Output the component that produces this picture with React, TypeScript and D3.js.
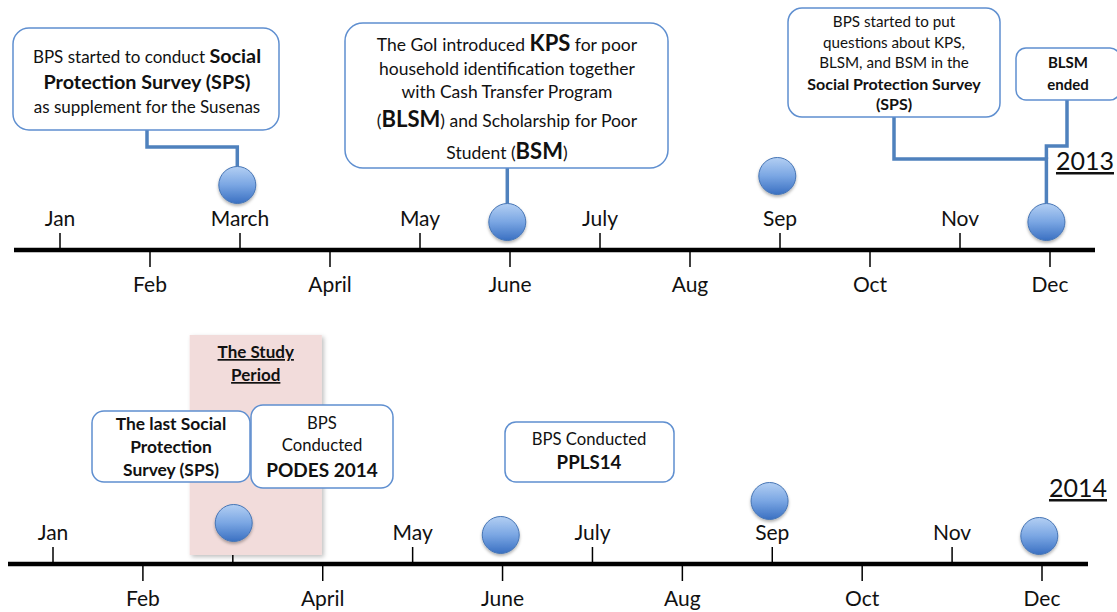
import React, { useEffect } from "react";
import { scaleLinear } from "d3";

const W = 1117;
const H = 612;
const FONT = "Lato, 'Open Sans', sans-serif";

const months = ["Jan", "Feb", "March", "April", "May", "June", "July", "Aug", "Sep", "Oct", "Nov", "Dec"];

// event markers: month index and how high above the axis line the dot sits
const events2013 = [
  { month: 1.97, lift: 65 },
  { month: 4.97, lift: 28 },
  { month: 7.97, lift: 74 },
  { month: 10.96, lift: 28 },
];
const events2014 = [
  { month: 2.01, lift: 41 },
  { month: 4.98, lift: 29 },
  { month: 7.97, lift: 63 },
  { month: 10.97, lift: 28 },
];
const studyPeriod = [1.52, 2.99];

type Seg = [string, "r" | "b" | "B"];

const callouts2013: { x: number; y: number; w: number; h: number; r: number; size: number; bold: number; big: number; cx: number; ys: number[]; lines: Seg[][] }[] = [
  {
    x: 13, y: 28, w: 266, h: 102, r: 16, size: 17, bold: 19.8, big: 19.8, cx: 147,
    ys: [63, 89, 113],
    lines: [
      [["BPS started to conduct ", "r"], ["Social", "b"]],
      [["Protection Survey (SPS)", "b"]],
      [["as supplement for the Susenas", "r"]],
    ],
  },
  {
    x: 345, y: 23, w: 323, h: 145, r: 18, size: 17.5, bold: 17.5, big: 22, cx: 507,
    ys: [51, 75, 98, 127, 159],
    lines: [
      [["The GoI introduced ", "r"], ["KPS", "B"], [" for poor", "r"]],
      [["household identification together", "r"]],
      [["with Cash Transfer Program", "r"]],
      [["(", "r"], ["BLSM", "B"], [") and Scholarship for Poor", "r"]],
      [["Student (", "r"], ["BSM", "B"], [")", "r"]],
    ],
  },
  {
    x: 788, y: 8, w: 212, h: 109, r: 14, size: 15.2, bold: 16, big: 16, cx: 894,
    ys: [27, 48, 68, 90, 110],
    lines: [
      [["BPS started to put", "r"]],
      [["questions about KPS,", "r"]],
      [["BLSM, and BSM in the", "r"]],
      [["Social Protection Survey", "b"]],
      [["(SPS)", "b"]],
    ],
  },
  {
    x: 1016, y: 48, w: 104, h: 52, r: 10, size: 15, bold: 15, big: 15, cx: 1068,
    ys: [68, 90],
    lines: [[["BLSM", "b"]], [["ended", "b"]]],
  },
];

const callouts2014: typeof callouts2013 = [
  {
    x: 92, y: 411, w: 158, h: 71, r: 12, size: 17.4, bold: 17.4, big: 17.4, cx: 171,
    ys: [430, 453, 476],
    lines: [[["The last Social", "b"]], [["Protection", "b"]], [["Survey (SPS)", "b"]]],
  },
  {
    x: 251, y: 405, w: 142, h: 83, r: 12, size: 16.7, bold: 19, big: 19, cx: 322,
    ys: [429, 451, 477],
    lines: [[["BPS", "r"]], [["Conducted", "r"]], [["PODES 2014", "b"]]],
  },
  {
    x: 505, y: 422, w: 169, h: 60, r: 11, size: 16.7, bold: 18.7, big: 18.7, cx: 589,
    ys: [445, 469],
    lines: [[["BPS Conducted", "r"]], [["PPLS14", "b"]]],
  },
];

const BLUE = "#4f81bd";
const BOX = "#5f8fd0";

function Callout({ c }: { c: (typeof callouts2013)[number] }) {
  return (
    <g>
      <rect x={c.x} y={c.y} width={c.w} height={c.h} rx={c.r} fill="#fff" stroke={BOX} strokeWidth={1.5} />
      {c.lines.map((line, i) => (
        <text key={i} x={c.cx} y={c.ys[i]} textAnchor="middle" fontFamily={FONT} fontSize={c.size} fill="#111">
          {line.map(([t, s], j) => (
            <tspan key={j} fontWeight={s === "r" ? 400 : 700} fontSize={s === "r" ? c.size : s === "b" ? c.bold : c.big}>
              {t}
            </tspan>
          ))}
        </text>
      ))}
    </g>
  );
}

function Axis({ axisY, x0, x1, scale, year, yearY }: any) {
  return (
    <g>
      <line x1={x0} x2={x1} y1={axisY} y2={axisY} stroke="#000" strokeWidth={4.5} />
      {months.map((m, i) => {
        const up = i % 2 === 0;
        const x = scale(i);
        return (
          <g key={m}>
            <line x1={x} x2={x} y1={axisY} y2={up ? axisY - 17 : axisY + 17} stroke="#000" strokeWidth={1.5} />
            <text x={x} y={up ? axisY - 24 : axisY + 42} textAnchor="middle" fontFamily={FONT} fontSize={21} fill="#111">
              {m}
            </text>
          </g>
        );
      })}
      <text x={x1 + 19} y={yearY} textAnchor="end" fontFamily={FONT} fontSize={25} fill="#111" textDecoration="underline">
        {year}
      </text>
    </g>
  );
}

function Dots({ axisY, scale, events }: any) {
  return (
    <g>
      {events.map((e: any, i: number) => (
        <circle key={i} cx={scale(e.month)} cy={axisY - e.lift} r={18.5} fill="url(#dotGrad)" stroke="#4675b5" strokeWidth={1} filter="url(#dotShadow)" />
      ))}
    </g>
  );
}

export default function App() {
  useEffect(() => {
    document.body.style.margin = "0";
  }, []);

  const top = scaleLinear().domain([0, 11]).range([60, 1050]);
  const bot = scaleLinear().domain([0, 11]).range([53, 1042]);
  const topY = 250;
  const botY = 564;

  const dotTop = (e: any) => topY - e.lift - 18.5;
  const c = callouts2013;
  const ev = events2013;
  const sx0 = bot(studyPeriod[0]);
  const sx1 = bot(studyPeriod[1]);

  return (
    <svg width={W} height={H} style={{ display: "block", background: "#fff" }}>
      <defs>
        <linearGradient id="dotGrad" x1="0" y1="0" x2="0" y2="1">
          <stop offset="0" stopColor="#b3cff3" />
          <stop offset="0.5" stopColor="#7aa6e3" />
          <stop offset="1" stopColor="#3a70c2" />
        </linearGradient>
        <filter id="dotShadow" x="-30%" y="-30%" width="160%" height="170%">
          <feDropShadow dx="0" dy="2" stdDeviation="1.5" floodColor="#000" floodOpacity="0.3" />
        </filter>
        <filter id="rectShadow" x="-10%" y="-10%" width="120%" height="120%">
          <feDropShadow dx="2" dy="2" stdDeviation="2" floodColor="#000" floodOpacity="0.25" />
        </filter>
      </defs>

      {/* connectors 2013 */}
      <g fill="none" stroke={BLUE} strokeWidth={3.5} strokeLinejoin="miter">
        <path d={`M${c[0].cx},${c[0].y + c[0].h} V147 H${top(ev[0].month)} V${dotTop(ev[0])}`} />
        <path d={`M${top(ev[1].month)},${c[1].y + c[1].h} V${dotTop(ev[1])}`} />
        <path d={`M${c[2].cx},${c[2].y + c[2].h} V159 H${top(ev[3].month)} V${dotTop(ev[3])}`} />
        <path d={`M${c[3].cx - 1},${c[3].y + c[3].h} V146 H${top(ev[3].month)} V159`} />
      </g>

      <Axis axisY={topY} x0={14} x1={1095} scale={top} year="2013" yearY={170} />
      <Dots axisY={topY} scale={top} events={events2013} />
      {callouts2013.map((co, i) => (
        <Callout key={i} c={co} />
      ))}

      <Axis axisY={botY} x0={8} x1={1088} scale={bot} year="2014" yearY={497} />

      {/* study period band, drawn over the axis labels */}
      <rect x={sx0} y={335} width={sx1 - sx0} height={220} fill="#f2dcdb" filter="url(#rectShadow)" />
      <text x={(sx0 + sx1) / 2} y={358} textAnchor="middle" fontFamily={FONT} fontSize={17} fontWeight={700} fill="#111" textDecoration="underline">
        The Study
      </text>
      <text x={(sx0 + sx1) / 2} y={381} textAnchor="middle" fontFamily={FONT} fontSize={17} fontWeight={700} fill="#111" textDecoration="underline">
        Period
      </text>

      <Dots axisY={botY} scale={bot} events={events2014} />
      {callouts2014.map((co, i) => (
        <Callout key={i} c={co} />
      ))}
    </svg>
  );
}
